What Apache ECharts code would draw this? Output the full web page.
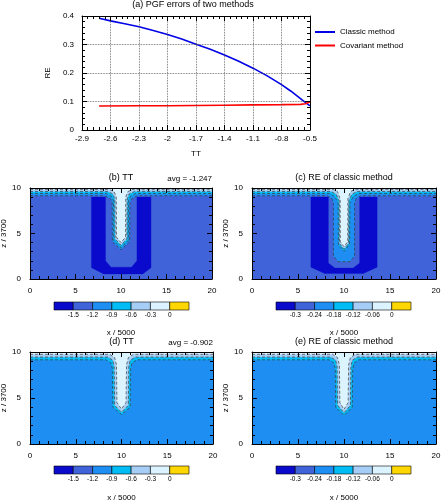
<!DOCTYPE html>
<html><head><meta charset="utf-8">
<script src="https://cdn.jsdelivr.net/npm/echarts@6/dist/echarts.min.js"></script>
<style>html,body{margin:0;padding:0;background:#fff}#c{width:441px;height:500px}</style>
</head><body><div id="c"></div>
<script>
const FONT = '"Liberation Sans", Arial, Helvetica, sans-serif';

// ---------- Panel (a) data ----------
const ttClassic = [-2.72,-2.6,-2.45,-2.3,-2.15,-2.0,-1.85,-1.7,-1.55,-1.4,-1.25,-1.1,-0.95,-0.8,-0.7,-0.6,-0.55,-0.5];
const reClassic = [0.392,0.383,0.373,0.362,0.349,0.335,0.319,0.301,0.283,0.263,0.241,0.217,0.190,0.159,0.136,0.110,0.097,0.085];
const ttCovariant = [-2.72,-2.3,-2.0,-1.7,-1.4,-1.1,-0.8,-0.6,-0.55,-0.5];
const reCovariant = [0.084,0.085,0.085,0.086,0.087,0.088,0.089,0.090,0.092,0.098];
const seriesNames = ['Classic method','Covariant method'];

// ---------- colour bars ----------
const levelColors = ['#0a0acd','#4163d9','#1e8ef2','#00bdf6','#a5cdf5','#dcf4ff','#ffd700'];
const levelsTT = ['-1.5','-1.2','-0.9','-0.6','-0.3','0'];
const levelsRE = ['-0.3','-0.24','-0.18','-0.12','-0.06','0'];

// ---------- contour region outlines (x/5000, z/3700) ----------
const domain = [[0,0],[20,0],[20,10],[0,10]];
// (b) TT
const bU  = [[6.75,9.0],[6.75,1.25],[8.1,0.55],[12.4,0.55],[13.3,1.25],[13.3,9.0],[11.75,9.0],[11.75,2.0],[11.15,1.3],[8.9,1.3],[8.3,2.0],[8.3,9.0]];
const bL2 = [[0,9.15],[8.2,9.15],[8.8,8.85],[9.02,8.4],[9.05,4.1],[10,3.2],[10.95,4.1],[10.98,8.4],[11.2,8.85],[11.8,9.15],[20,9.15],[20,10],[0,10]];
const bL3 = [[0,9.4],[8.35,9.4],[8.95,9.1],[9.18,8.6],[9.2,4.25],[10,3.45],[10.8,4.25],[10.82,8.6],[11.05,9.1],[11.65,9.4],[20,9.4],[20,10],[0,10]];
const bL4 = [[0,9.62],[8.5,9.62],[9.1,9.35],[9.32,8.8],[9.35,4.4],[10,3.7],[10.65,4.4],[10.68,8.8],[10.9,9.35],[11.5,9.62],[20,9.62],[20,10],[0,10]];
const bL5 = [[0,9.85],[8.7,9.85],[9.25,9.6],[9.48,9.0],[9.5,4.6],[10,4.0],[10.5,4.6],[10.52,9.0],[10.75,9.6],[11.3,9.85],[20,9.85],[20,10],[0,10]];
// (c) RE
const cU  = [[6.4,9.0],[6.4,1.3],[7.9,0.6],[12.1,0.6],[13.6,1.3],[13.6,9.0],[11.7,9.0],[11.7,1.75],[11.0,1.2],[9.0,1.2],[8.3,1.75],[8.3,9.0]];
const cL2 = [[0,9.15],[8.2,9.15],[8.7,8.8],[8.85,8.3],[8.85,2.5],[9.4,1.9],[10.6,1.9],[11.15,2.5],[11.15,8.3],[11.3,8.8],[11.8,9.15],[20,9.15],[20,10],[0,10]];
const cL3 = [[0,9.4],[8.4,9.4],[9.0,9.05],[9.35,8.4],[9.4,3.8],[10,3.05],[10.6,3.8],[10.65,8.4],[11.0,9.05],[11.6,9.4],[20,9.4],[20,10],[0,10]];
const cL4 = [[0,9.62],[8.6,9.62],[9.15,9.3],[9.48,8.6],[9.5,3.9],[10,3.3],[10.5,3.9],[10.52,8.6],[10.85,9.3],[11.4,9.62],[20,9.62],[20,10],[0,10]];
const cL5 = [[0,9.85],[8.8,9.85],[9.3,9.6],[9.58,8.8],[9.6,4.1],[10,3.55],[10.4,4.1],[10.42,8.8],[10.7,9.6],[11.2,9.85],[20,9.85],[20,10],[0,10]];
// (d) TT
const dL3 = [[0,9.15],[8.3,9.15],[8.85,8.8],[9.0,8.2],[9.05,4.0],[10,3.2],[10.95,4.0],[11.0,8.2],[11.15,8.8],[11.7,9.15],[20,9.15],[20,10],[0,10]];
const dL4 = [[0,9.45],[8.5,9.45],[9.05,9.1],[9.2,8.4],[9.25,4.2],[10,3.45],[10.75,4.2],[10.8,8.4],[10.95,9.1],[11.5,9.45],[20,9.45],[20,10],[0,10]];
const dL5 = [[0,9.75],[8.7,9.75],[9.25,9.4],[9.45,8.6],[9.5,4.5],[10,3.8],[10.5,4.5],[10.55,8.6],[10.75,9.4],[11.3,9.75],[20,9.75],[20,10],[0,10]];
// (e) RE
const eL3 = [[0,9.15],[8.4,9.15],[8.9,8.8],[9.05,8.2],[9.1,4.0],[10,3.1],[10.9,4.0],[10.95,8.2],[11.1,8.8],[11.6,9.15],[20,9.15],[20,10],[0,10]];
const eL4 = [[0,9.45],[8.55,9.45],[9.1,9.1],[9.25,8.4],[9.3,4.2],[10,3.4],[10.7,4.2],[10.75,8.4],[10.9,9.1],[11.45,9.45],[20,9.45],[20,10],[0,10]];
const eL5 = [[0,9.75],[8.75,9.75],[9.3,9.4],[9.5,8.6],[9.55,4.5],[10,3.75],[10.45,4.5],[10.5,8.6],[10.7,9.4],[11.25,9.75],[20,9.75],[20,10],[0,10]];

// layers: [points, colour index, has dashed contour]
const panels = [
  {title:'(b) TT', avg:'avg = -1.247', levels:levelsTT, layers:[[domain,1,false],[bU,0,false],[bL2,2,true],[bL3,3,true],[bL4,4,true],[bL5,5,true]]},
  {title:'(c) RE of classic method', avg:'', levels:levelsRE, layers:[[domain,1,false],[cU,0,false],[cL2,2,true],[cL3,3,true],[cL4,4,true],[cL5,5,true]]},
  {title:'(d) TT', avg:'avg = -0.902', levels:levelsTT, layers:[[domain,2,false],[dL3,3,true],[dL4,4,true],[dL5,5,true]]},
  {title:'(e) RE of classic method', avg:'', levels:levelsRE, layers:[[domain,2,false],[eL3,3,true],[eL4,4,true],[eL5,5,true]]}
];

// ---------- layout ----------
const gridsPx = [
  {left:82, top:16, width:228, height:114},
  {left:30, top:188, width:182, height:91},
  {left:252, top:188, width:184, height:91},
  {left:30, top:352, width:183, height:92},
  {left:252, top:352, width:184, height:92}
];
const cbPx = [
  {left:54, top:302, width:135, height:8},
  {left:276, top:302, width:135, height:8},
  {left:54, top:466, width:135, height:8},
  {left:276, top:466, width:135, height:8}
];

function ax(extra){
  return Object.assign({
    type:'value',
    axisLine:{show:true, onZero:false, lineStyle:{color:'#000', width:1}},
    axisTick:{show:true, inside:true, length:5, lineStyle:{color:'#000', width:1}},
    minorTick:{show:true, splitNumber:5, length:3, lineStyle:{color:'#000', width:1}},
    splitLine:{show:false},
    axisLabel:{color:'#000', fontSize:8, fontFamily:FONT},
    nameTextStyle:{color:'#000', fontSize:8, fontFamily:FONT},
    z:10
  }, extra);
}

const grid = [], xAxis = [], yAxis = [], series = [], graphic = [];
gridsPx.concat(cbPx).forEach(g => grid.push(Object.assign({outerBoundsMode:'none', containLabel:false}, g)));

// panel a axes
const fmt1 = v => String(+(+v).toFixed(1));
xAxis.push(ax({gridIndex:0, min:-2.9, max:-0.5, interval:0.3, position:'bottom',
  axisLabel:{color:'#000', fontSize:8, fontFamily:FONT, margin:5, formatter:fmt1},
  splitLine:{show:true, lineStyle:{type:'dotted', color:'#555', width:0.8}},
  name:'TT', nameLocation:'middle', nameGap:20}));
xAxis.push(ax({gridIndex:0, min:-2.9, max:-0.5, interval:0.3, position:'top', axisLabel:{show:false}}));
yAxis.push(ax({gridIndex:0, min:0, max:0.4, interval:0.1, position:'left',
  axisLabel:{color:'#000', fontSize:8, fontFamily:FONT, margin:8, formatter:fmt1},
  splitLine:{show:true, lineStyle:{type:'dotted', color:'#555', width:0.8}},
  name:'RE', nameLocation:'middle', nameGap:25, nameRotate:90}));
yAxis.push(ax({gridIndex:0, min:0, max:0.4, interval:0.1, position:'right', axisLabel:{show:false}}));

series.push({type:'line', name:seriesNames[0], xAxisIndex:0, yAxisIndex:0, showSymbol:false, smooth:false,
  data: ttClassic.map((x,i)=>[x, reClassic[i]]), lineStyle:{color:'#0000e6', width:1.6}, itemStyle:{color:'#0000e6'}, z:5});
series.push({type:'line', name:seriesNames[1], xAxisIndex:0, yAxisIndex:0, showSymbol:false, smooth:false,
  data: ttCovariant.map((x,i)=>[x, reCovariant[i]]), lineStyle:{color:'#ff0000', width:1.6}, itemStyle:{color:'#ff0000'}, z:5});

// contour panels
const nameGapsY = [17, 19, 17, 19];
panels.forEach((p, k) => {
  const gi = k + 1;
  const xi = xAxis.length, yi = yAxis.length;
  xAxis.push(ax({gridIndex:gi, min:0, max:20, interval:5, position:'bottom',
    axisLabel:{color:'#000', fontSize:8, fontFamily:FONT, margin:8},
    name:'x / 5000', nameLocation:'middle', nameGap:50}));
  xAxis.push(ax({gridIndex:gi, min:0, max:20, interval:5, position:'top', axisLabel:{show:false}}));
  yAxis.push(ax({gridIndex:gi, min:0, max:10, interval:5, position:'left',
    axisLabel:{color:'#000', fontSize:8, fontFamily:FONT, margin:9},
    name:'z / 3700', nameLocation:'middle', nameGap:nameGapsY[k], nameRotate:90}));
  yAxis.push(ax({gridIndex:gi, min:0, max:10, interval:5, position:'right', axisLabel:{show:false}}));

  const layers = p.layers;
  series.push({type:'custom', xAxisIndex:xi, yAxisIndex:yi, clip:true, z:1, silent:true,
    data: layers.map((l,i)=>[i]),
    renderItem: (params, api) => {
      const L = layers[params.dataIndex];
      return {type:'polygon', shape:{points: L[0].map(pt => api.coord(pt))},
        style:{fill: levelColors[L[1]], stroke: levelColors[L[1]], lineWidth:0.3}};
    }});
  series.push({type:'custom', xAxisIndex:xi, yAxisIndex:yi, clip:true, z:3, silent:true,
    data: layers.map((l,i)=>[i]),
    renderItem: (params, api) => {
      const L = layers[params.dataIndex];
      if (!L[2]) return null;
      const pts = L[0].slice(0, L[0].length - 2).map(pt => api.coord(pt));
      return {type:'polyline', shape:{points: pts},
        style:{fill:null, stroke:'#3a3a3a', lineWidth:0.7, lineDash:[3,2]}};
    }});

  // colour bar
  const cgi = 5 + k;
  const cxi = xAxis.length, cyi = yAxis.length;
  const lv = p.levels;
  xAxis.push({type:'value', gridIndex:cgi, min:0, max:7, interval:1, position:'bottom',
    axisLine:{show:false}, axisTick:{show:false}, splitLine:{show:false},
    axisLabel:{color:'#000', fontSize:6.5, fontFamily:FONT, margin:2,
      formatter: v => (v >= 1 && v <= 6) ? lv[Math.round(v) - 1] : ''}});
  yAxis.push({type:'value', gridIndex:cgi, min:0, max:1, show:false});
  series.push({type:'custom', xAxisIndex:cxi, yAxisIndex:cyi, z:2, silent:true,
    data: levelColors.map((c,i)=>[i, i+1]),
    renderItem: (params, api) => {
      const a = api.coord([api.value(0), 1]);
      const b = api.coord([api.value(1), 0]);
      return {type:'rect', shape:{x:a[0], y:a[1], width:b[0]-a[0], height:b[1]-a[1]},
        style:{fill: levelColors[params.dataIndex], stroke:'#000', lineWidth:0.6}};
    }});

  // titles
  const g = gridsPx[gi];
  graphic.push({type:'text', x: g.left + g.width/2, y: g.top - 10,
    style:{text:p.title, font:'9px ' + FONT, fill:'#000', textAlign:'center', textVerticalAlign:'middle'}});
  if (p.avg) graphic.push({type:'text', x: g.left + g.width, y: g.top - 9,
    style:{text:p.avg, font:'8px ' + FONT, fill:'#000', textAlign:'right', textVerticalAlign:'middle'}});
});

graphic.push({type:'text', x:193, y:5,
  style:{text:'(a) PGF errors of two methods', font:'9px ' + FONT, fill:'#000', textAlign:'center', textVerticalAlign:'middle'}});

const chart = echarts.init(document.getElementById('c'), null, {renderer:'canvas'});
chart.setOption({
  animation:false,
  backgroundColor:'#fff',
  textStyle:{fontFamily:FONT},
  grid, xAxis, yAxis, series, graphic,
  legend:{data:seriesNames, left:315, top:27, orient:'vertical', icon:'rect', itemWidth:20, itemHeight:2,
    itemGap:3.5, padding:0, textStyle:{fontSize:8, color:'#000', fontFamily:FONT, lineHeight:10}}
});
</script></body></html>
